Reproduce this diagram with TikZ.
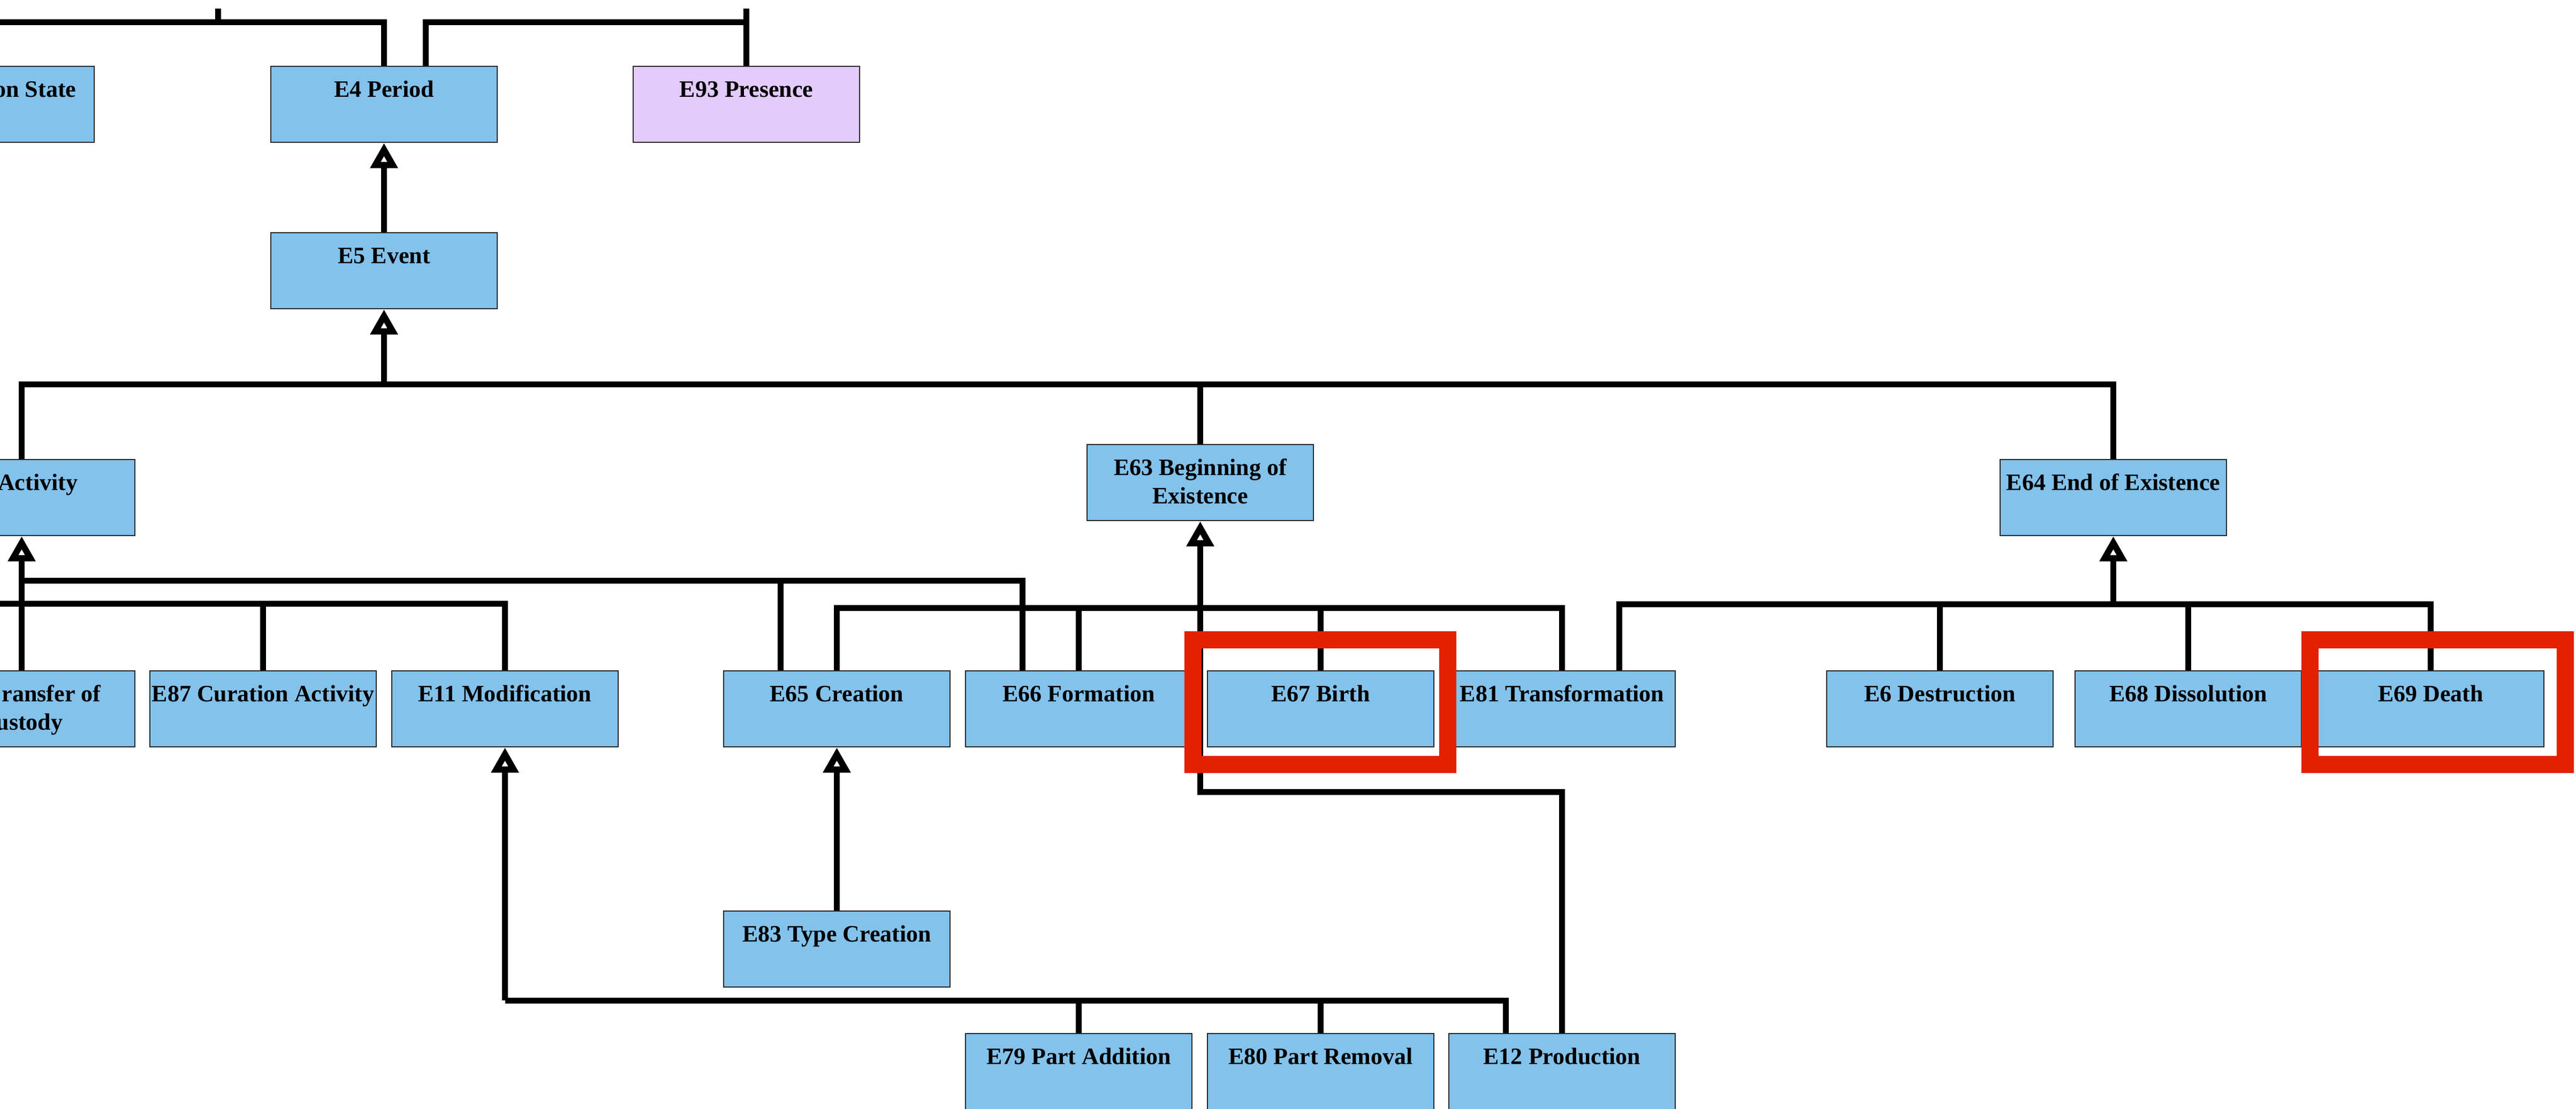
\documentclass[tikz,border=0pt]{standalone}
\usepackage{fontspec}
\setmainfont{Liberation Serif}
\usetikzlibrary{arrows.meta}
\definecolor{cblue}{RGB}{131,194,235}
\definecolor{lav}{RGB}{227,203,251}
\definecolor{redhl}{RGB}{227,33,0}
\tikzset{
  cbox/.style={rectangle, draw=black!85, line width=0.025cm, fill=cblue,
    minimum width=4.23cm, minimum height=1.42cm, inner sep=0pt,
    text height=0.57cm, text depth=0.85cm,
    font=\bfseries\fontsize{12.52}{15.08}\selectfont},
  ptxt/.style={inner sep=0pt, anchor=base east,
    font=\bfseries\fontsize{12.52}{15.08}\selectfont},
  ln/.style={line width=0.11cm, black, line join=miter},
  ar/.style={ln, -{Triangle[open, length=0.47cm, width=0.49cm, line width=0.125cm]}},
  hl/.style={draw=redhl, line width=0.32cm}
}
\begin{document}
\begin{tikzpicture}
\useasboundingbox (0,0) rectangle (48.13,-20.72);
\clip (0,0) rectangle (48.13,-20.72);

% levels
\coordinate (yTop) at (0,-0.41);
\coordinate (yUp) at (0,-0.16);
\coordinate (yB1) at (0,-7.18);
\coordinate (yB7a) at (0,-10.85);
\coordinate (yB7b) at (0,-11.28);
\coordinate (yB63) at (0,-11.36);
\coordinate (yB64) at (0,-11.29);
\coordinate (yB12) at (0,-14.80);
\coordinate (yB11) at (0,-18.70);
\coordinate (offL) at (-0.6,0);
\coordinate (tickx) at (4.07,0);

% boxes
\node[cbox] (e3) at (-0.355,-1.95) {};
\node[ptxt] (e3t) at (1.43,-1.81) {on State};
\node[cbox] (e4) at (7.175,-1.95) {E4 Period};
\node[cbox, fill=lav] (e93) at (13.945,-1.95) {E93 Presence};
\node[cbox] (e5) at (7.175,-5.06) {E5 Event};

\node[cbox] (e7) at (0.405,-9.30) {};
\node[ptxt] (e7t) at (1.46,-9.16) {Activity};
\node[cbox] (e63) at (22.425,-9.02) {\begin{tabular}[t]{@{}c@{}}E63 Beginning of\\Existence\end{tabular}};
\node[cbox] (e64) at (39.485,-9.30) {E64 End of Existence};

\node[cbox] (e10) at (0.405,-13.25) {};
\node[ptxt] (e10a) at (1.89,-13.11) {ransfer of};
\node[ptxt] (e10b) at (1.18,-13.64) {ustody};
\node[cbox] (e87) at (4.915,-13.25) {E87 Curation Activity};
\node[cbox] (e11) at (9.435,-13.25) {E11 Modification};
\node[cbox] (e65) at (15.635,-13.25) {E65 Creation};
\node[cbox] (e66) at (20.155,-13.25) {E66 Formation};
\node[cbox] (e67) at (24.675,-13.25) {E67 Birth};
\node[cbox] (e81) at (29.185,-13.25) {E81 Transformation};
\node[cbox] (e6) at (36.245,-13.25) {E6 Destruction};
\node[cbox] (e68) at (40.885,-13.25) {E68 Dissolution};
\node[cbox] (e69) at (45.415,-13.25) {E69 Death};

\node[cbox] (e83) at (15.635,-17.74) {E83 Type Creation};

\node[cbox] (e79) at (20.155,-20.03) {E79 Part Addition};
\node[cbox] (e80) at (24.675,-20.03) {E80 Part Removal};
\node[cbox] (e12) at (29.185,-20.03) {E12 Production};

% top connectors
\draw[ln] (e4.north) |- (offL |- yTop);
\draw[ln] (tickx |- yTop) -- (tickx |- yUp);
\draw[ln] ([xshift=0.775cm]e4.north) |- (e93.north |- yTop);
\draw[ln] (e93.north) -- (e93.north |- yUp);

\draw[ar] (e5.north) -- (e4.south);

% E5 bus
\draw[ln] (e7.north) |- (e64.north |- yB1) -- (e64.north);
\draw[ln] (e63.north) -- (e63.north |- yB1);
\draw[ar] (e5.south |- yB1) -- (e5.south);

% E7 tree
\draw[ar] (e10.north) -- (e7.south);
\draw[ln] ([xshift=-1.055cm]e66.north) |- (e7.south |- yB7a);
\draw[ln] ([xshift=-1.055cm]e65.north) -- ([xshift=-1.055cm]e65.north |- yB7a);
\draw[ln] (e11.north) |- (offL |- yB7b);
\draw[ln] (e87.north) -- (e87.north |- yB7b);

% E63 tree
\draw[ln] (e65.north) |- (e81.north |- yB63) -- (e81.north);
\draw[ln] (e66.north) -- (e66.north |- yB63);
\draw[ln] (e67.north) -- (e67.north |- yB63);
\draw[ln] (e12.north) |- (e63.south |- yB12) -- (e63.south |- yB63);
\draw[ar] (e63.south |- yB63) -- (e63.south);

% E64 tree
\draw[ln] ([xshift=1.065cm]e81.north) |- (e69.north |- yB64) -- (e69.north);
\draw[ln] (e6.north) -- (e6.north |- yB64);
\draw[ln] (e68.north) -- (e68.north |- yB64);
\draw[ar] (e64.south |- yB64) -- (e64.south);

% E65 <- E83
\draw[ar] (e83.north) -- (e65.south);

% E11 tree
\draw[ln] (e11.south |- yB11) -| ([xshift=-1.055cm]e12.north);
\draw[ln] (e79.north) -- (e79.north |- yB11);
\draw[ln] (e80.north) -- (e80.north |- yB11);
\draw[ar] (e11.south |- yB11) -- (e11.south);

% highlights
\coordinate (h1a) at (22.29,-11.96);
\coordinate (h1b) at (27.05,-14.29);
\coordinate (h2a) at (43.16,-11.96);
\coordinate (h2b) at (47.93,-14.29);
\draw[hl] (h1a) rectangle (h1b);
\draw[hl] (h2a) rectangle (h2b);
\end{tikzpicture}
\end{document}
